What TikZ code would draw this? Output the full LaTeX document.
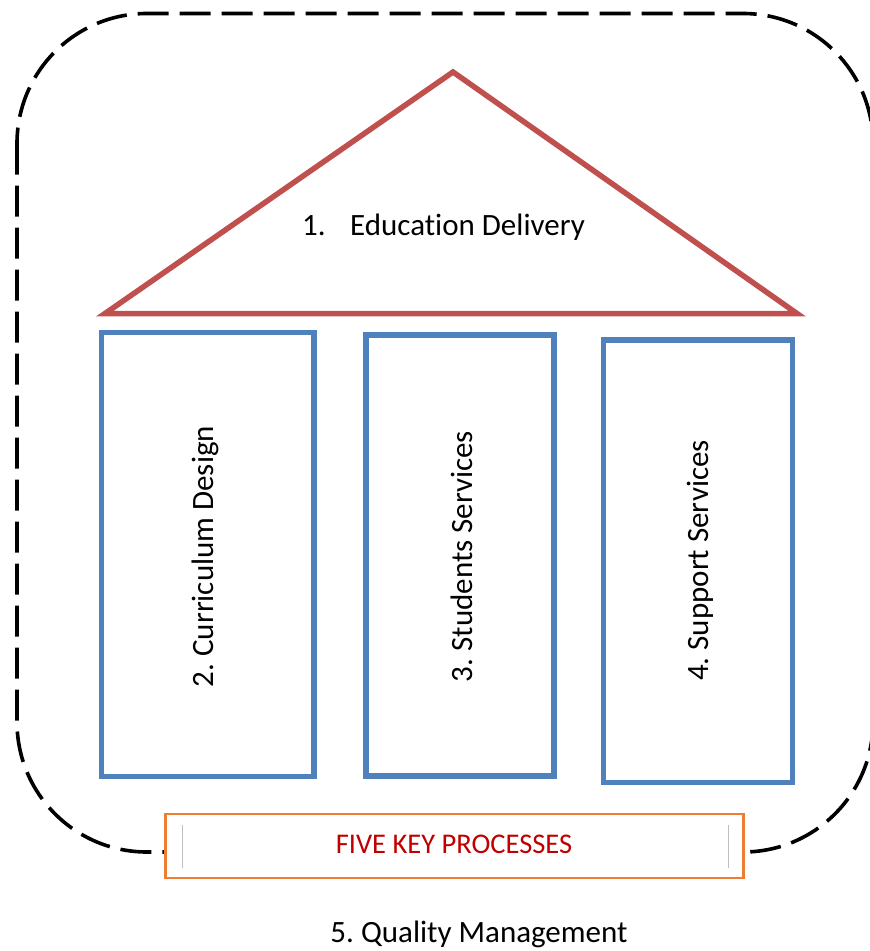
\documentclass[tikz,border=0pt]{standalone}
\usepackage{fontspec}
\setmainfont{Carlito}[Ligatures=NoCommon]
\frenchspacing
\definecolor{roofred}{HTML}{C0504D}
\definecolor{pillarblue}{HTML}{4F81BD}
\definecolor{baseorange}{HTML}{ED7D31}
\definecolor{textred}{HTML}{C00000}
\definecolor{sepgray}{HTML}{BFBFBF}
\tikzset{
  outerdash/.style={draw=black, line width=3.6pt, dash pattern=on 31pt off 11pt, rounded corners=130pt},
  roof/.style={draw=roofred, line width=5.5pt, line join=miter},
  pillar/.style={draw=pillarblue, line width=5.5pt},
  basebox/.style={draw=baseorange, fill=white, line width=2.5pt},
  sepline/.style={draw=sepgray, line width=1pt},
  bigtext/.style={font=\fontsize{31}{37}\selectfont, text=black, inner sep=0pt},
  pillartext/.style={bigtext, rotate=90, anchor=base},
  basetext/.style={font=\fontsize{28.5}{34}\selectfont, text=textred, inner sep=0pt, anchor=base}
}
\begin{document}
\begin{tikzpicture}[x=1pt,y=-1pt]
\useasboundingbox (0,0) rectangle (870,951);
\begin{scope}
\clip (0,0) rectangle (870,951);
\draw[outerdash] (17,13.5) rectangle (873,852);
\end{scope}
% roof
\coordinate (rl) at (105,313.5);
\coordinate (ra) at (453,72);
\coordinate (rr) at (797,313.5);
\draw[roof] (rl) -- (ra) -- (rr) -- cycle;
\node[bigtext, anchor=base west] (t1) at (302,235.5) {\makebox[48pt][l]{1.}Education Delivery};
% pillars
\node[pillar, draw, minimum width=212.5pt, minimum height=444pt, inner sep=0pt] (p1) at (207.75,554.5) {};
\node[pillar, draw, minimum width=188pt, minimum height=441pt, inner sep=0pt] (p2) at (460,555.5) {};
\node[pillar, draw, minimum width=189pt, minimum height=442.5pt, inner sep=0pt] (p3) at (698,561.25) {};
\node[pillartext] (t2) at (213,556.5) {2. Curriculum Design};
\node[pillartext] (t3) at (472,556.5) {3. Students Services};
\node[pillartext] (t4) at (708,560.5) {4. Support Services};
% base
\node[basebox, minimum width=578pt, minimum height=64pt, inner sep=0pt] (b) at (454.5,846) {};
\draw[sepline] (182,825) -- (182,868);
\draw[sepline] (728,825) -- (728,868);
\node[basetext] (t5) at (454,853) {FIVE KEY PROCESSES};
\node[bigtext, anchor=base] (t6) at (479,942.7) {5. Quality Management};
\end{tikzpicture}
\end{document}
